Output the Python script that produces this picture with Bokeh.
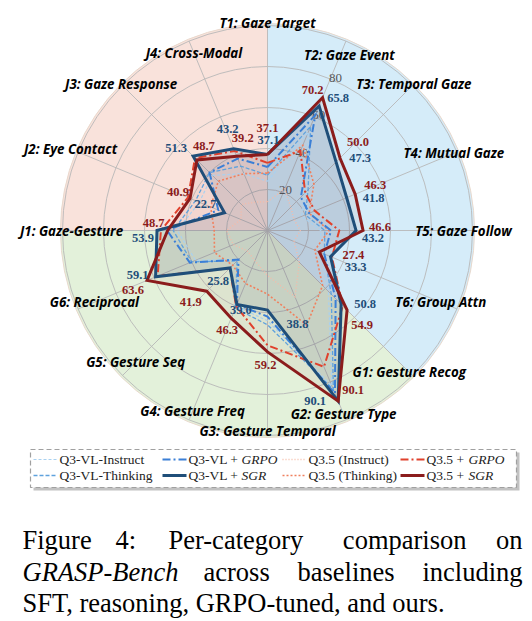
import math
from bokeh.plotting import figure
from bokeh.models import Range1d
from bokeh.embed import file_html
from bokeh.resources import INLINE
from bokeh.core.properties import value

# ---------------- data ----------------
categories = ["T1: Gaze Target", "T2: Gaze Event", "T3: Temporal Gaze", "T4: Mutual Gaze",
              "T5: Gaze Follow", "T6: Group Attn", "G1: Gesture Recog", "G2: Gesture Type",
              "G3: Gesture Temporal", "G4: Gesture Freq", "G5: Gesture Seq", "G6: Reciprocal",
              "J1: Gaze-Gesture", "J2: Eye Contact", "J3: Gaze Response", "J4: Cross-Modal"]
group_sizes = [6, 6, 4]          # T, G, J
radial_ticks = [20, 40, 60, 80]

vl_instruct  = [24, 52, 26, 18, 26, 28, 42, 82, 44, 40, 20, 38, 44, 36, 38, 30]
vl_thinking  = [27, 55, 28, 20, 28, 30, 44, 84, 46, 41, 21, 40, 46, 38, 40, 34]
vl_grpo      = [31, 61, 23, 22, 31, 30, 47, 86, 42, 39, 20, 41, 49, 26, 40, 38]
vl_sgr       = [37.1, 65.8, 47.3, 41.8, 43.2, 33.3, 50.8, 90.1, 38.8, 39.0, 25.8, 59.1, 53.9, 22.7, 51.3, 43.2]
q35_instruct = [14, 22, 16, 14, 16, 14, 22, 35, 22, 16, 14, 18, 20, 14, 18, 15]
q35_thinking = [28, 45, 32, 22, 30, 25, 38, 50, 31, 28, 24, 28, 26, 30, 34, 30]
q35_grpo     = [33, 42, 26, 25, 35, 34, 52, 72, 56, 40, 26, 58, 52, 42, 50, 42]
q35_sgr      = [37.1, 70.2, 50.0, 46.3, 46.6, 27.4, 54.9, 90.1, 59.2, 46.3, 41.9, 63.6, 48.7, 40.9, 48.7, 39.2]

# ---------------- layout ----------------
W, H = 532, 621
S = 2.05            # px per radial unit
CX, CY = 267, 230   # centre in px
N = len(categories)

def px2x(px):
    return (px - CX) / S

def px2y(py):
    return (CY - py) / S

p = figure(width=W, height=H, output_backend="svg", toolbar_location=None,
           x_range=Range1d(px2x(0), px2x(W)), y_range=Range1d(px2y(H), px2y(0)),
           x_axis_location=None, y_axis_location=None, min_border=0)
p.grid.visible = False
p.outline_line_color = None
p.background_fill_color = "white"
p.border_fill_color = "white"

thetas = [i * 2 * math.pi / N for i in range(N)]   # clockwise from top

def polar(vals, angs=None):
    angs = thetas if angs is None else angs
    xs = [v * math.sin(t) for v, t in zip(vals, angs)]
    ys = [v * math.cos(t) for v, t in zip(vals, angs)]
    return xs, ys

# background sectors
R_OUT = 101
sector_colors = ["#d5ecf9", "#e3f1da", "#f9e2db"]
start = 0
for size, col in zip(group_sizes, sector_colors):
    t0 = thetas[start]
    t1 = t0 + size * 2 * math.pi / N
    p.wedge(x=0, y=0, radius=R_OUT, start_angle=math.pi / 2 - t1, end_angle=math.pi / 2 - t0,
            fill_color=col, line_color=None)
    start += size
p.circle(x=0, y=0, radius=R_OUT, fill_color=None, line_color="#e8d8cc", line_width=1)

# grid
for r in radial_ticks + [100]:
    p.circle(x=0, y=0, radius=r, fill_color=None, line_color="#b8b8b8", line_width=0.9)
ex, ey = polar([100] * N)
p.segment(x0=[0] * N, y0=[0] * N, x1=ex, y1=ey, line_color="#b8b8b8", line_width=0.9)

# radial tick labels
ang = math.radians(24)
p.text(x=[(r + 1.5) * math.sin(ang) for r in radial_ticks],
       y=[(r + 1.5) * math.cos(ang) for r in radial_ticks],
       text=[str(r) for r in radial_ticks], text_font=value("Liberation Serif"),
       text_font_size="13px", text_color="#555555", text_align="center", text_baseline="middle")

# SGR fills
bx, by = polar(vl_sgr)
rx, ry = polar(q35_sgr)
p.patch(bx, by, fill_color="#1f4e79", fill_alpha=0.12, line_color=None)
p.patch(rx, ry, fill_color="#8b1c1c", fill_alpha=0.06, line_color=None)

series = [
    ("Q3-VL-Instruct", vl_instruct, "#a9d1f0", "3 2", 1.2),
    ("Q3-VL-Thinking", vl_thinking, "#5fa2dd", "4 2", 1.3),
    ("Q3.5 (Instruct)", q35_instruct, "#f6bba8", "1 2", 1.4),
    ("Q3.5 (Thinking)", q35_thinking, "#f0805e", "2 2", 1.6),
    ("Q3-VL + GRPO", vl_grpo, "#3b7fd6", "8 3 2 3", 2.0),
    ("Q3.5 + GRPO", q35_grpo, "#e0412c", "8 3 2 3", 2.0),
    ("Q3-VL + SGR", vl_sgr, "#1f4e79", None, 3.0),
    ("Q3.5 + SGR", q35_sgr, "#8b1c1c", None, 3.0),
]
style = {}
for name, vals, col, dash, lw in series:
    xs, ys = polar(vals)
    xs.append(xs[0]); ys.append(ys[0])
    kw = dict(line_color=col, line_width=lw, line_join="miter")
    if dash:
        kw["line_dash"] = dash
    p.line(xs, ys, **kw)
    style[name] = (col, dash, lw)

# category labels (radial distance of each label centre)
label_r = [101, 94.5, 101, 98.4, 95.6, 91.5, 97.8, 97, 97.6, 95.5, 91, 91.4, 95.6, 104, 101, 93.8]
label_ang = [t + d for t, d in zip(thetas, [0, math.radians(2.5)] + [0] * (N - 2))]
lx, ly = polar(label_r, label_ang)
p.text(x=lx, y=ly, text=categories, text_font=value("Open Sans"), text_font_style="bold italic",
       text_font_size="13.3px", text_color="black", text_align="center", text_baseline="middle")

# value labels (pixel offsets from each vertex)
blue_off = [(1, -14), (19, -8), (24, -4), (27, 0), (17, 7), (25, 10), (24, 0), (-23, 0),
            (30, 14), (4, 6), (-12, 13), (-18, -2), (-14, 7), (-19, -9), (-17, -8), (-6, -20)]
red_off = [(0, -26), (-10, -8), (18, -16), (20, -9), (17, -4), (34, 3), (15, 15), (15, -11),
           (-2, 13), (-4, 12), (-16, 11), (-14, 10), (-14, -8), (-12, -6), (7, -14), (6, -18)]
for vals, offs, col in [(vl_sgr, blue_off, "#1f4e79"), (q35_sgr, red_off, "#8b1c1c")]:
    xs, ys = polar(vals)
    p.text(x=[x + dx / S for x, (dx, dy) in zip(xs, offs)],
           y=[y - dy / S for y, (dx, dy) in zip(ys, offs)],
           text=["%.1f" % v for v in vals], text_font=value("Liberation Serif"),
           text_font_style="bold", text_font_size="12.5px", text_color=col,
           text_align="center", text_baseline="middle")

# legend (drawn manually)
lx0, lx1, ly0, ly1 = 30, 516, 449, 487
p.quad(left=px2x(lx0 + 3), right=px2x(lx1 + 3), top=px2y(ly0 + 3), bottom=px2y(ly1 + 3),
       fill_color="#9a9a9a", fill_alpha=0.6, line_color=None)
p.quad(left=px2x(lx0), right=px2x(lx1), top=px2y(ly0), bottom=px2y(ly1),
       fill_color="white", line_color="#a0a0a0", line_dash="5 3", line_width=1.2)
legend_layout = [
    ("Q3-VL-Instruct", 33, 459), ("Q3-VL-Thinking", 33, 475),
    ("Q3-VL + GRPO", 162, 459), ("Q3-VL + SGR", 162, 475),
    ("Q3.5 (Instruct)", 282, 459), ("Q3.5 (Thinking)", 282, 475),
    ("Q3.5 + GRPO", 400, 459), ("Q3.5 + SGR", 400, 475),
]
LFS = "13.5px"
for name, x0, yy in legend_layout:
    col, dash, lw = style[name]
    kw = dict(line_color=col, line_width=lw)
    if dash:
        kw["line_dash"] = dash
    p.line([px2x(x0), px2x(x0 + 24)], [px2y(yy), px2y(yy)], **kw)
    if "+" in name:
        base, suffix = name.split(" + ")
        p.text(x=[px2x(x0 + 26)], y=[px2y(yy)], text=[base + " + "], text_font=value("Liberation Serif"),
               text_font_size=LFS, text_color="#222222", text_baseline="middle", text_align="left")
        off = {"Q3-VL": 53, "Q3.5": 42}[base]
        p.text(x=[px2x(x0 + 26 + off)], y=[px2y(yy)], text=[suffix], text_font=value("Liberation Serif"),
               text_font_style="italic", text_font_size=LFS, text_color="#222222",
               text_baseline="middle", text_align="left")
    else:
        p.text(x=[px2x(x0 + 26)], y=[px2y(yy)], text=[name], text_font=value("Liberation Serif"),
               text_font_size=LFS, text_color="#222222", text_baseline="middle", text_align="left")

# caption (justified by hand)
cap_font = value("Liberation Serif")
CFS = "26.5px"
line1 = [("Figure", 22, "left"), ("4:", 115, "left"), ("Per-category", 168, "left"),
         ("comparison", 466, "right"), ("on", 522, "right")]
for word, x0, al in line1:
    p.text(x=[px2x(x0)], y=[px2y(539)], text=[word], text_font=cap_font, text_font_size=CFS,
           text_color="black", text_baseline="alphabetic", text_align=al)
line2 = [("GRASP-Bench", 22, "italic", "left"), ("across", 203, "normal", "left"),
         ("baselines", 297, "normal", "left"), ("including", 522, "normal", "right")]
for word, x0, st, al in line2:
    p.text(x=[px2x(x0)], y=[px2y(571)], text=[word], text_font=cap_font, text_font_size=CFS,
           text_font_style=st, text_color="black", text_baseline="alphabetic", text_align=al)
p.text(x=[px2x(22)], y=[px2y(602)], text=["SFT, reasoning, GRPO-tuned, and ours."], text_font=cap_font,
       text_font_size=CFS, text_color="black", text_baseline="alphabetic", text_align="left")

open("out.html", "w").write(file_html(p, INLINE))
